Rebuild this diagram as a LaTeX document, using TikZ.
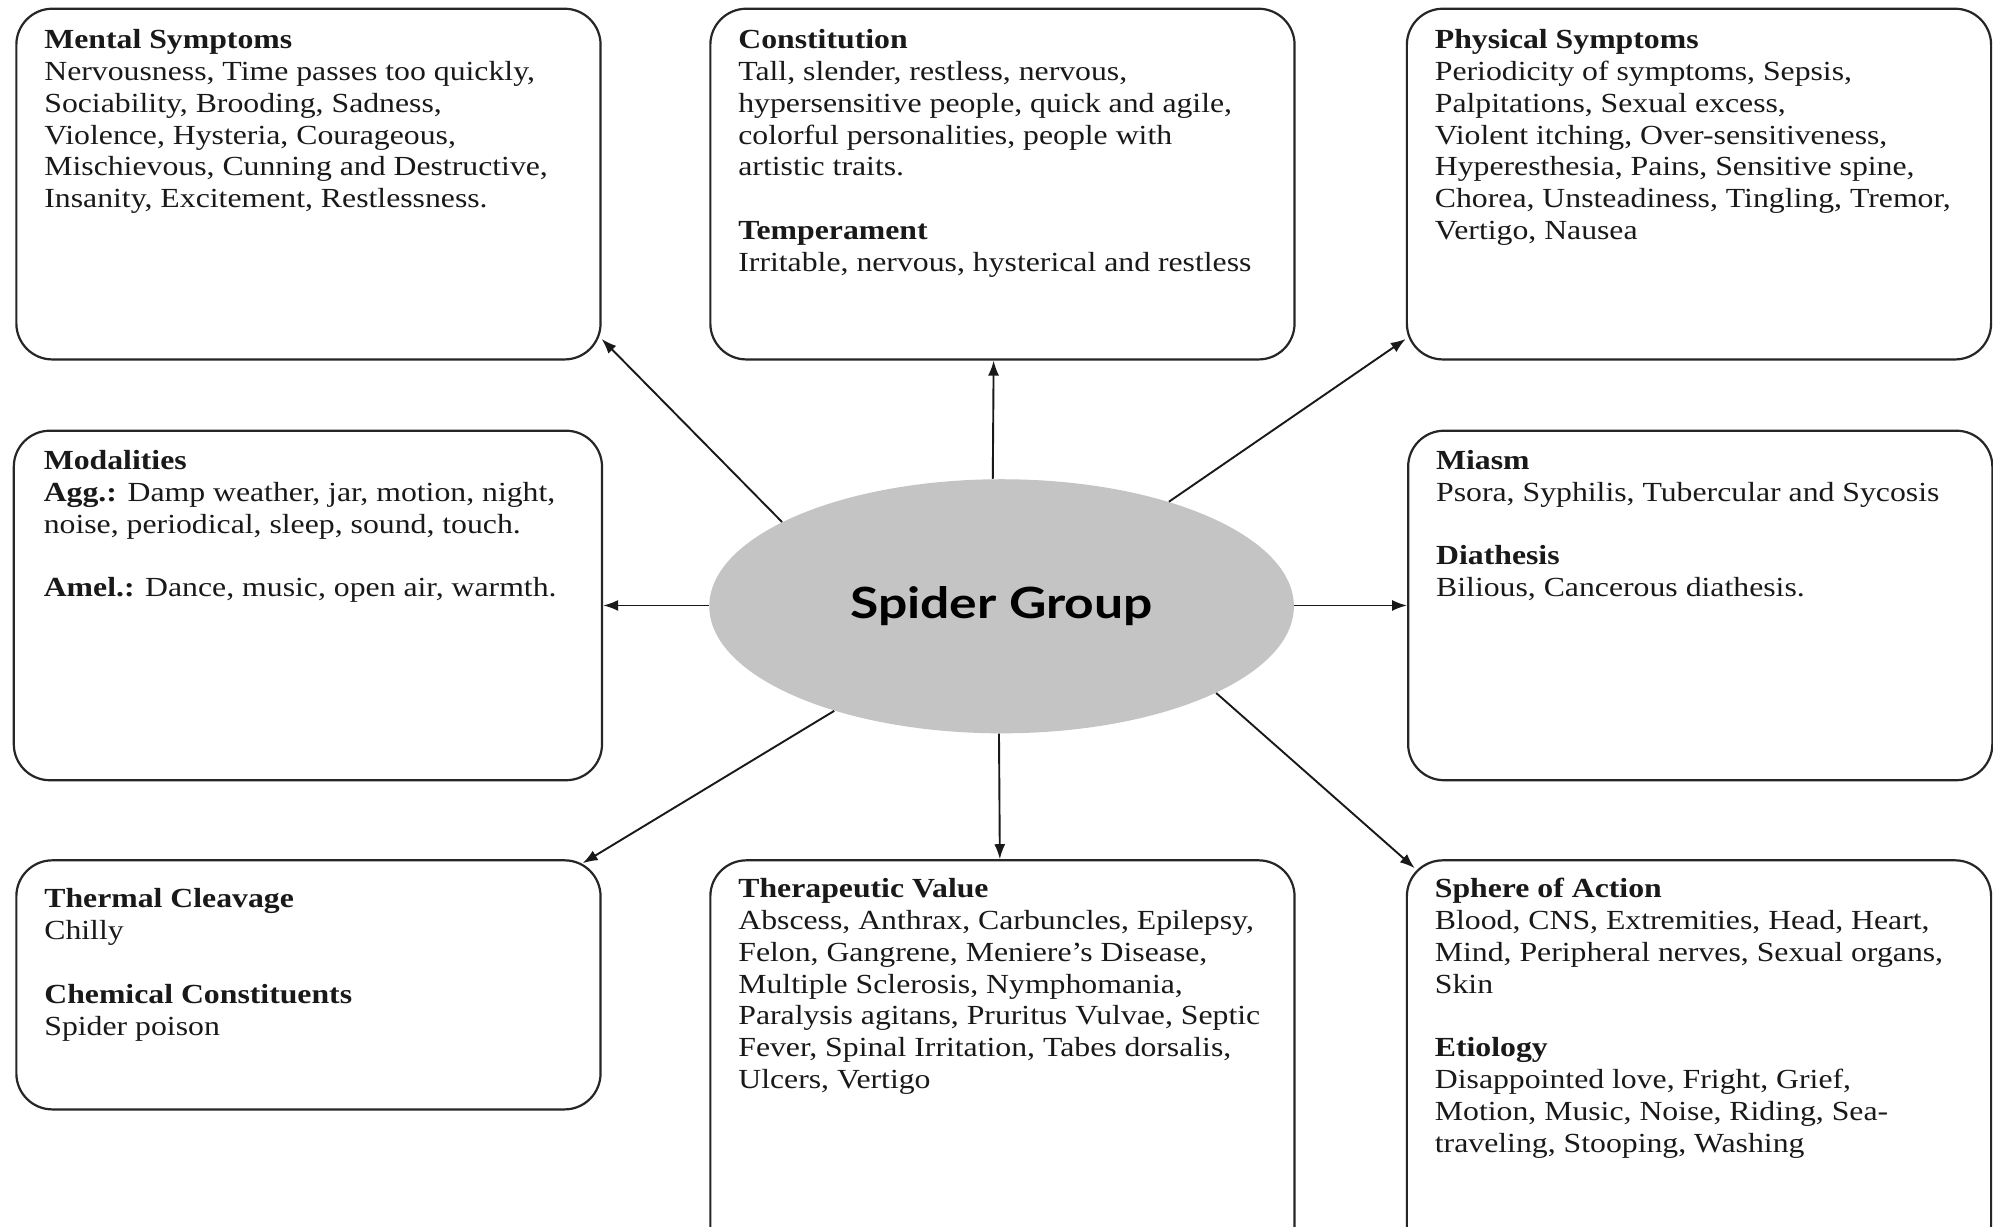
\documentclass[tikz,border=0pt]{standalone}
\usepackage{fontspec}
\setmainfont{Liberation Serif}[FakeStretch=1.15]
\newfontfamily\titlefont{Lato}[FakeStretch=1.2]
\usetikzlibrary{shapes.geometric,arrows.meta}
\definecolor{ovalgray}{HTML}{C4C4C4}
\newcommand{\ptext}[3]{\parbox[t][#2][t]{264pt}{\raggedright\rule{0pt}{#1}\ignorespaces #3}}
\newcommand{\gap}{\\[15.9pt]}
\tikzset{
  panel/.style={draw=black!85, line width=1.1pt, rounded corners=18pt, anchor=north west,
    inner xsep=14pt, inner ysep=0pt, text=black!90,
    font=\fontsize{13.8pt}{15.9pt}\selectfont},
  arr/.style={draw=black!90, line width=0.95pt, -{Latex[length=7.5pt,width=5.5pt]}},
  hub/.style={ellipse, fill=ovalgray, inner sep=0pt, minimum width=292.2pt, minimum height=127pt,
    font=\titlefont\bfseries\fontsize{21.5pt}{24pt}\selectfont}
}
\begin{document}
\begin{tikzpicture}[x=0.6353pt, y=-0.6353pt]
\useasboundingbox (0,0) rectangle (1568,965);
\clip (0,0) rectangle (1568,965);
\fill[white] (0,0) rectangle (1568,965);

\node[panel] (mental) at (12,6) {\ptext{20pt}{175.3pt}{\textbf{Mental Symptoms}\\
Nervousness, Time passes too quickly,\\
Sociability, Brooding, Sadness,\\
Violence, Hysteria, Courageous,\\
Mischievous, Cunning and Destructive,\\
Insanity, Excitement, Restlessness.}};

\node[panel] (constit) at (558,6) {\ptext{20pt}{175.3pt}{\textbf{Constitution}\\
Tall, slender, restless, nervous,\\
hypersensitive people, quick and agile,\\
colorful personalities, people with\\
artistic traits.\gap
\textbf{Temperament}\\
Irritable, nervous, hysterical and restless}};

\node[panel] (phys) at (1106,6) {\ptext{20pt}{175.3pt}{\textbf{Physical Symptoms}\\
Periodicity of symptoms, Sepsis,\\
Palpitations, Sexual excess,\\
Violent itching, Over-sensitiveness,\\
Hyperesthesia, Pains, Sensitive spine,\\
Chorea, Unsteadiness, Tingling, Tremor,\\
Vertigo, Nausea}};

\node[panel, minimum width=294pt] (modal) at (10,338) {\ptext{19.4pt}{174.7pt}{\textbf{Modalities}\\
\textbf{Agg.:} Damp weather, jar, motion, night,\\
noise, periodical, sleep, sound, touch.\gap
\textbf{Amel.:} Dance, music, open air, warmth.}};

\node[panel] (miasm) at (1107,338) {\ptext{19.4pt}{174.7pt}{\textbf{Miasm}\\
Psora, Syphilis, Tubercular and Sycosis\gap
\textbf{Diathesis}\\
Bilious, Cancerous diathesis.}};

\node[panel] (thermal) at (12,676) {\ptext{23.8pt}{124.5pt}{\textbf{Thermal Cleavage}\\
Chilly\gap
\textbf{Chemical Constituents}\\
Spider poison}};

\node[panel] (therap) at (558,676) {\ptext{18.7pt}{203pt}{\textbf{Therapeutic Value}\\
Abscess, Anthrax, Carbuncles, Epilepsy,\\
Felon, Gangrene, Meniere’s Disease,\\
Multiple Sclerosis, Nymphomania,\\
Paralysis agitans, Pruritus Vulvae, Septic\\
Fever, Spinal Irritation, Tabes dorsalis,\\
Ulcers, Vertigo}};

\node[panel] (sphere) at (1106,676) {\ptext{18.7pt}{203pt}{\textbf{Sphere of Action}\\
Blood, CNS, Extremities, Head, Heart,\\
Mind, Peripheral nerves, Sexual organs,\\
Skin\gap
\textbf{Etiology}\\
Disappointed love, Fright, Grief,\\
Motion, Music, Noise, Riding, Sea-\\
traveling, Stooping, Washing}};

\node[hub] (sg) at (788,477) {Spider Group};

\draw[arr] (sg.159) -- ([yshift=10.8pt]mental.south east);
\draw[arr] ([xshift=-4.4pt]sg.north) -- ([xshift=-4.4pt]constit.south);
\draw[arr] (sg.32) -- ([yshift=10.8pt]phys.south west);
\draw[arr] (sg.west |- modal.east) -- (modal.east);
\draw[arr] (sg.east |- miasm.west) -- (miasm.west);
\draw[arr] (sg.212) -- ([xshift=-9.5pt,yshift=-2pt]thermal.north east);
\draw[arr] ([xshift=-1.3pt]sg.south) -- ([xshift=-1.3pt]therap.north);
\draw[arr] (sg.-22) -- ([xshift=4.5pt,yshift=-4.5pt]sphere.north west);
\end{tikzpicture}
\end{document}
